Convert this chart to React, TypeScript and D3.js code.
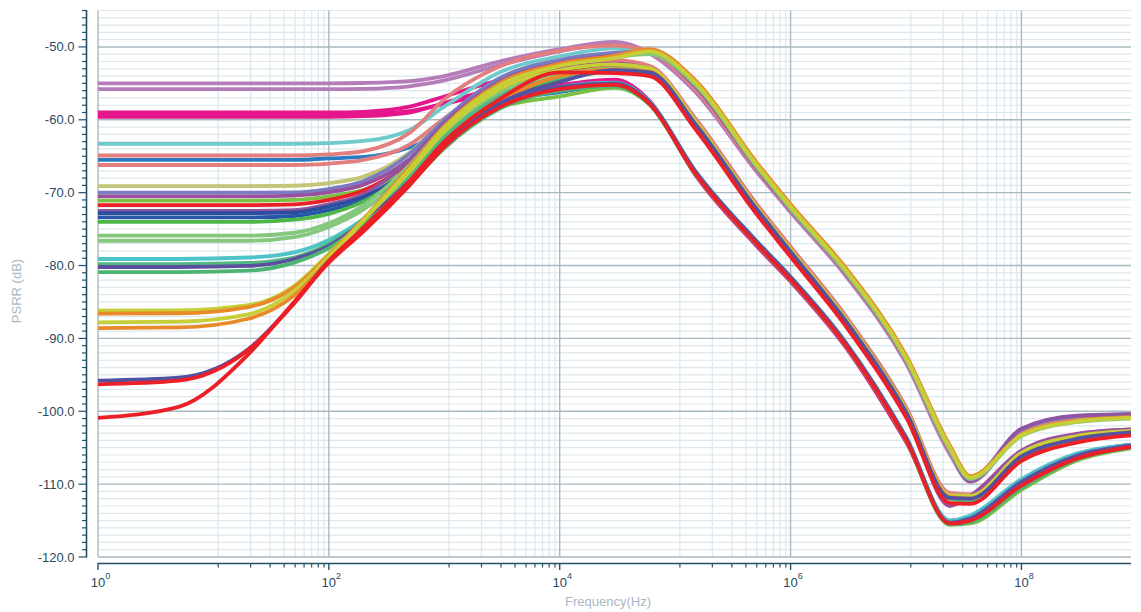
import React, { useEffect, useRef } from 'react';
import * as d3 from 'd3';

// frequency grid (Hz) shared by all curves
const freqs = [1, 5, 20, 50, 100, 200, 500, 1e3, 3e3, 1e4, 3e4, 6e4, 1.5e5, 5e5, 1e6, 3e6, 1e7, 2.4e7, 3.6e7, 1e8, 3e8, 8.9e8];

// PSRR curves (dB), one per corner
const s01 = [-55.0, -55.0, -55.0, -55.0, -55.0, -54.95, -54.7, -54.0, -52.0, -50.3, -49.3, -50.8, -56.0, -66.8, -72.5, -81.2, -93.2, -105.6, -109.5, -102.7, -100.8, -100.5];
const s02 = [-55.8, -55.8, -55.8, -55.8, -55.8, -55.75, -55.4, -54.6, -52.5, -50.6, -49.5, -50.9, -56.2, -67.0, -72.7, -81.4, -93.4, -105.9, -109.7, -102.9, -101.0, -100.6];
const s03 = [-59.0, -59.0, -59.0, -59.0, -59.0, -58.9, -58.2, -56.8, -54.6, -53.3, -52.4, -52.8, -60.0, -71.6, -77.6, -87.1, -99.6, -111.4, -111.5, -105.6, -103.3, -102.6];
const s04 = [-59.3, -59.3, -59.3, -59.3, -59.3, -59.2, -58.8, -57.8, -56.2, -55.2, -54.5, -57.4, -67.6, -77.2, -82.2, -91.2, -104.2, -115.0, -114.6, -109.6, -106.0, -104.6];
const s05 = [-59.6, -59.6, -59.6, -59.6, -59.6, -59.5, -59.0, -57.7, -55.5, -54.2, -53.0, -53.4, -60.6, -72.1, -78.1, -87.6, -100.1, -111.9, -112.0, -106.0, -103.6, -102.8];
const s06 = [-63.3, -63.3, -63.3, -63.3, -63.2, -62.9, -61.4, -58.2, -53.5, -51.3, -50.2, -50.5, -55.3, -66.3, -72.1, -80.8, -92.8, -105.2, -109.2, -103.1, -101.2, -100.8];
const s07 = [-64.9, -64.9, -64.9, -64.9, -64.75, -64.3, -61.8, -57.2, -52.7, -50.5, -49.8, -50.7, -55.8, -66.7, -72.4, -81.1, -93.1, -105.5, -109.4, -103.0, -101.1, -100.7];
const s08 = [-65.5, -65.5, -65.5, -65.5, -65.3, -65.1, -63.8, -61.7, -57.7, -56.2, -55.3, -57.8, -67.3, -76.8, -81.8, -90.8, -103.8, -115.1, -114.6, -109.8, -106.2, -104.8];
const s09 = [-66.2, -66.2, -66.2, -66.2, -66.0, -65.5, -63.4, -59.8, -54.8, -52.5, -51.8, -52.6, -59.8, -71.4, -77.4, -86.9, -99.4, -111.2, -111.4, -105.5, -103.2, -102.5];
const s10 = [-69.1, -69.1, -69.1, -69.05, -68.7, -67.8, -64.5, -60.0, -54.5, -52.0, -51.0, -50.4, -54.8, -65.9, -71.8, -80.5, -92.5, -104.9, -109.0, -103.3, -101.4, -100.9];
const s11 = [-70.0, -70.0, -70.0, -69.95, -69.5, -68.4, -64.7, -60.0, -54.3, -51.8, -50.8, -50.6, -55.1, -66.2, -72.0, -80.7, -92.7, -105.1, -109.1, -102.5, -100.7, -100.4];
const s12 = [-70.5, -70.5, -70.5, -70.4, -69.95, -68.9, -65.4, -61.0, -55.6, -53.0, -52.3, -53.0, -60.3, -71.9, -77.9, -87.4, -99.9, -113.0, -111.6, -105.4, -103.1, -102.5];
const s13 = [-71.1, -71.1, -71.1, -71.0, -70.5, -69.6, -66.9, -63.2, -58.3, -56.8, -55.6, -57.9, -67.4, -76.9, -81.9, -90.9, -103.9, -115.6, -115.4, -110.8, -106.8, -105.1];
const s14 = [-71.7, -71.7, -71.7, -71.6, -71.0, -69.7, -65.9, -61.4, -55.9, -53.4, -52.6, -53.1, -60.4, -72.0, -78.0, -87.5, -100.0, -111.7, -111.9, -106.1, -103.7, -102.9];
const s15 = [-72.5, -72.5, -72.5, -72.4, -71.6, -70.2, -65.5, -60.5, -54.8, -52.2, -51.2, -50.9, -55.4, -66.5, -72.3, -81.0, -93.0, -105.4, -109.6, -102.4, -100.6, -100.4];
const s16 = [-72.8, -72.8, -72.8, -72.7, -71.9, -70.6, -66.8, -62.3, -57.0, -54.5, -53.0, -53.3, -60.5, -72.0, -78.0, -87.5, -100.0, -111.8, -111.9, -106.0, -103.6, -102.8];
const s17 = [-73.4, -73.4, -73.4, -73.2, -72.4, -71.1, -67.5, -63.4, -58.2, -55.8, -55.1, -57.6, -67.2, -76.7, -81.7, -90.7, -103.7, -115.2, -114.5, -109.5, -105.9, -104.6];
const s18 = [-74.0, -74.0, -74.0, -73.7, -72.9, -71.2, -67.0, -62.4, -57.0, -54.5, -53.4, -53.6, -60.8, -72.2, -78.2, -87.7, -100.2, -112.0, -112.4, -106.8, -104.2, -103.2];
const s19 = [-75.9, -75.9, -75.9, -75.5, -74.2, -71.7, -66.2, -60.9, -55.1, -52.5, -51.4, -51.0, -55.2, -66.3, -72.2, -80.9, -92.9, -105.3, -109.3, -103.4, -101.5, -101.0];
const s20 = [-76.6, -76.6, -76.6, -76.1, -74.7, -72.3, -67.1, -62.0, -56.3, -53.8, -52.9, -53.3, -60.6, -72.1, -78.1, -87.6, -100.1, -111.9, -112.1, -106.3, -103.8, -103.0];
const s21 = [-79.1, -79.1, -78.9, -78.2, -76.5, -73.6, -68.3, -63.5, -58.0, -55.5, -54.9, -57.5, -67.0, -76.5, -81.5, -90.5, -103.5, -115.0, -114.3, -109.3, -105.8, -104.6];
const s22 = [-79.8, -79.8, -79.65, -78.9, -77.0, -73.8, -67.6, -62.4, -56.8, -54.2, -53.2, -53.5, -60.7, -72.2, -78.2, -87.7, -100.2, -112.0, -112.2, -106.4, -103.9, -103.0];
const s23 = [-80.2, -80.2, -80.05, -79.1, -77.3, -74.0, -68.4, -63.5, -58.0, -55.5, -55.0, -57.6, -67.1, -76.6, -81.6, -90.6, -103.6, -115.3, -114.7, -109.7, -106.1, -104.7];
const s24 = [-80.9, -80.9, -80.7, -79.6, -77.6, -74.3, -68.8, -63.9, -58.5, -56.0, -55.4, -57.9, -67.5, -77.0, -82.0, -91.0, -104.0, -115.5, -115.2, -110.5, -106.6, -105.0];
const s25 = [-86.2, -86.15, -85.45, -82.8, -78.4, -73.7, -67.1, -61.6, -55.8, -53.2, -52.4, -52.9, -60.2, -71.8, -77.8, -87.3, -99.8, -111.5, -111.6, -105.7, -103.4, -102.7];
const s26 = [-86.6, -86.55, -85.7, -83.0, -78.6, -73.6, -66.5, -60.9, -55.0, -52.3, -51.2, -50.3, -54.6, -65.7, -71.6, -80.3, -92.3, -104.7, -108.9, -103.2, -101.3, -100.8];
const s27 = [-87.8, -87.7, -86.7, -83.5, -78.8, -73.8, -66.8, -61.1, -55.3, -52.6, -51.5, -50.6, -54.9, -66.0, -71.9, -80.6, -92.6, -105.0, -109.1, -103.3, -101.4, -100.9];
const s28 = [-88.6, -88.5, -87.3, -84.1, -79.3, -74.8, -68.5, -63.2, -57.5, -54.0, -53.1, -53.4, -60.6, -72.1, -78.1, -87.6, -100.1, -111.8, -112.0, -106.2, -103.8, -102.9];
const s29 = [-95.8, -95.4, -91.5, -85.1, -79.4, -75.0, -68.8, -63.5, -57.8, -54.8, -53.2, -53.5, -60.6, -72.1, -78.1, -87.6, -100.1, -111.9, -112.0, -106.2, -103.8, -102.9];
const s30 = [-96.3, -95.8, -91.6, -85.2, -79.4, -74.8, -68.4, -63.0, -57.2, -53.5, -53.6, -54.0, -61.3, -72.8, -78.8, -88.3, -100.8, -112.6, -112.7, -106.8, -104.3, -103.3];
const s31 = [-100.9, -99.4, -92.2, -85.0, -79.6, -75.3, -69.0, -63.7, -58.3, -55.8, -55.2, -57.8, -67.4, -76.9, -81.9, -90.9, -103.9, -115.4, -115.0, -110.2, -106.5, -104.9];

const seriesValues = [s01, s02, s03, s04, s05, s06, s07, s08, s09, s10, s11, s12, s13, s14, s15, s16,
  s17, s18, s19, s20, s21, s22, s23, s24, s25, s26, s27, s28, s29, s30, s31];

const seriesColors = [
  '#b57cba', '#b57cba', '#e5168c', '#e5168c', '#e5168c', '#6fcbcb', '#e27f7e', '#2b7bc0',
  '#e27f7e', '#c3c577', '#7b7bbf', '#9a4f9f', '#7ac143', '#ec1f26', '#8f55a2', '#2a4d9e',
  '#2856a6', '#4cb748', '#84c77d', '#84c77d', '#4ec4c8', '#52b781', '#5d4fa0', '#4bb571',
  '#c6cf35', '#e98a2a', '#c6cf35', '#e98a2a', '#5252a3', '#ec1f26', '#ec1f26',
];

const yMajorTicks = [-50, -60, -70, -80, -90, -100, -110, -120];
const xMajorTicks = [1, 1e2, 1e4, 1e6, 1e8];
const xMajorExp = ['0', '2', '4', '6', '8'];
const xMinorDecades = [10, 1e3, 1e5, 1e7];
const xMinorSteps = [1.1, 2.1, 3.1, 4.1, 5.1, 6.1, 7.1, 8.1, 9.1];

const W = 1141;
const H = 612;
const left = 98;
const right = 1131;
const top = 10.5;
const bottom = 557;

export default function App() {
  const ref = useRef<SVGSVGElement>(null);

  useEffect(() => {
    const svg = d3.select(ref.current);
    svg.selectAll('*').remove();

    const x = d3.scaleLog().domain([1, 8.9e8]).range([left, right]);
    const y = d3.scaleLinear().domain([-120, -45]).range([bottom, top]);

    const minorX: number[] = [];
    xMinorDecades.forEach((d) => xMinorSteps.forEach((m) => minorX.push(d * m)));
    const minorY = d3.range(-45, -120, -1).filter((v) => v % 10 !== 0);

    // grid
    const grid = svg.append('g');
    grid.selectAll('.hmin').data(minorY).enter().append('line')
      .attr('x1', left).attr('x2', right)
      .attr('y1', (d) => y(d)).attr('y2', (d) => y(d))
      .style('stroke', '#dde7ed').style('stroke-width', 1.2);
    grid.selectAll('.vmin').data(minorX).enter().append('line')
      .attr('x1', (d) => x(d)).attr('x2', (d) => x(d))
      .attr('y1', top).attr('y2', bottom)
      .style('stroke', '#dde7ed').style('stroke-width', 1.2);
    grid.selectAll('.hmaj').data(yMajorTicks).enter().append('line')
      .attr('x1', left).attr('x2', right)
      .attr('y1', (d) => y(d)).attr('y2', (d) => y(d))
      .style('stroke', '#a9b9c1').style('stroke-width', 1.4);
    grid.selectAll('.vmaj').data(xMajorTicks).enter().append('line')
      .attr('x1', (d) => x(d)).attr('x2', (d) => x(d))
      .attr('y1', top).attr('y2', bottom)
      .style('stroke', '#a9b9c1').style('stroke-width', 1.4);

    // curves
    svg.append('clipPath').attr('id', 'plotClip')
      .append('rect').attr('x', left).attr('y', top)
      .attr('width', right - left).attr('height', bottom - top);

    const line = d3.line<number>()
      .x((d, i) => x(freqs[i]))
      .y((d) => y(d))
      .curve(d3.curveMonotoneX);

    svg.append('g').attr('clip-path', 'url(#plotClip)')
      .selectAll('path')
      .data(seriesValues)
      .enter()
      .append('path')
      .attr('d', (d) => line(d))
      .style('fill', 'none')
      .style('stroke', (d, i) => seriesColors[i])
      .style('stroke-width', 3.8)
      .style('stroke-linejoin', 'round');

    const axisColor = '#24506a';
    const textColor = '#2b4a5e';

    // y axis
    const yAxis = svg.append('g');
    yAxis.append('line').attr('x1', 86.5).attr('x2', 86.5).attr('y1', top - 0.5).attr('y2', bottom + 0.5)
      .style('stroke', axisColor).style('stroke-width', 1.6);
    yAxis.selectAll('.ymin').data(d3.range(-45, -121, -1)).enter().append('line')
      .attr('x1', (d) => (d % 10 === 0 ? 78.5 : 82)).attr('x2', 86.5)
      .attr('y1', (d) => y(d)).attr('y2', (d) => y(d))
      .style('stroke', axisColor).style('stroke-width', 1.2);
    yAxis.selectAll('text').data(yMajorTicks).enter().append('text')
      .attr('x', 74.5).attr('y', (d) => y(d)).attr('dy', '0.35em')
      .attr('text-anchor', 'end')
      .style('font-family', 'Liberation Sans, Arial, sans-serif')
      .style('font-size', '13px')
      .style('fill', textColor)
      .text((d) => d.toFixed(1));

    // x axis
    const xAxis = svg.append('g');
    xAxis.append('line').attr('x1', left - 0.5).attr('x2', right).attr('y1', 563.5).attr('y2', 563.5)
      .style('stroke', axisColor).style('stroke-width', 1.6);
    xAxis.selectAll('.xmin').data(minorX).enter().append('line')
      .attr('x1', (d) => x(d)).attr('x2', (d) => x(d))
      .attr('y1', 563.5).attr('y2', 567.5)
      .style('stroke', axisColor).style('stroke-width', 1.2);
    xAxis.selectAll('.xmaj').data(xMajorTicks).enter().append('line')
      .attr('x1', (d) => x(d)).attr('x2', (d) => x(d))
      .attr('y1', 563.5).attr('y2', 570)
      .style('stroke', axisColor).style('stroke-width', 1.4);
    const labels = xAxis.selectAll('text').data(xMajorTicks).enter().append('text')
      .attr('x', (d) => x(d) + 2.5).attr('y', 586.5)
      .attr('text-anchor', 'middle')
      .style('font-family', 'Liberation Sans, Arial, sans-serif')
      .style('font-size', '13px')
      .style('fill', textColor);
    labels.append('tspan').text('10');
    labels.append('tspan').attr('dy', -8).style('font-size', '9px').text((d, i) => xMajorExp[i]);

    // axis titles
    svg.append('text')
      .attr('x', 608).attr('y', 605.5)
      .attr('text-anchor', 'middle')
      .style('font-family', 'Liberation Sans, Arial, sans-serif')
      .style('font-size', '13px')
      .style('fill', '#a8b8c4')
      .text('Frequency(Hz)');
    svg.append('text')
      .attr('transform', 'translate(21, 291) rotate(-90)')
      .attr('text-anchor', 'middle')
      .style('font-family', 'Liberation Sans, Arial, sans-serif')
      .style('font-size', '13px')
      .style('fill', '#a8b8c4')
      .text('PSRR (dB)');
  }, []);

  return (
    <svg
      ref={ref}
      width={W}
      height={H}
      style={{ position: 'absolute', left: 0, top: 0, background: '#ffffff' }}
    />
  );
}
